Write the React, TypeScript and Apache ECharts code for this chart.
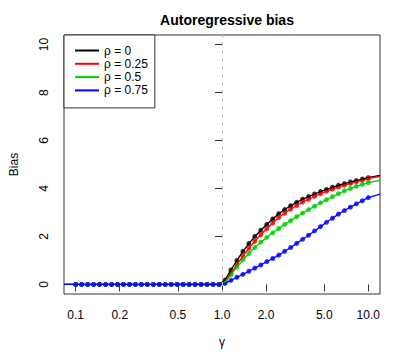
import React, { useEffect, useRef } from "react";
import * as echarts from "echarts";

const gamma = [
  0.1, 0.1099, 0.1207, 0.1326, 0.1456, 0.16, 0.1758, 0.1931, 0.2121, 0.233,
  0.256, 0.2812, 0.3089, 0.3393, 0.3728, 0.4095, 0.4498, 0.4942, 0.5429, 0.5964,
  0.6551, 0.7197, 0.7906, 0.8685, 0.9541, 1.0481, 1.1514, 1.2649, 1.3895, 1.5264,
  1.6768, 1.842, 2.0236, 2.223, 2.4421, 2.6827, 2.9471, 3.2375, 3.5565, 3.907,
  4.2919, 4.7149, 5.1795, 5.6899, 6.2506, 6.8665, 7.5431, 8.2864, 9.103, 10,
];

const rhoLabels = ["ρ = 0", "ρ = 0.25", "ρ = 0.5", "ρ = 0.75"];
const rhoColors = ["#000000", "#FF0000", "#00CD00", "#0000FF"];

const biasRho0 = [
  0, 0, 0, 0, 0, 0, 0, 0, 0, 0, 0, 0, 0, 0, 0, 0, 0, 0, 0, 0, 0, 0, 0, 0, 0,
  0.18, 0.6, 1.0, 1.38, 1.7, 2.0, 2.26, 2.5, 2.73, 2.95, 3.12, 3.28, 3.42, 3.55, 3.66,
  3.77, 3.87, 3.96, 4.05, 4.13, 4.2, 4.27, 4.33, 4.39, 4.45,
];
const biasRho025 = [
  0, 0, 0, 0, 0, 0, 0, 0, 0, 0, 0, 0, 0, 0, 0, 0, 0, 0, 0, 0, 0, 0, 0, 0, 0,
  0.12, 0.46, 0.82, 1.18, 1.5, 1.8, 2.07, 2.32, 2.56, 2.79, 2.97, 3.14, 3.29, 3.43, 3.55,
  3.67, 3.78, 3.88, 3.97, 4.06, 4.14, 4.21, 4.28, 4.34, 4.41,
];
const biasRho05 = [
  0, 0, 0, 0, 0, 0, 0, 0, 0, 0, 0, 0, 0, 0, 0, 0, 0, 0, 0, 0, 0, 0, 0, 0, 0,
  0.07, 0.4, 0.72, 1.02, 1.29, 1.54, 1.76, 1.96, 2.15, 2.33, 2.5, 2.66, 2.82, 2.97, 3.12,
  3.26, 3.4, 3.53, 3.66, 3.78, 3.9, 4.0, 4.09, 4.17, 4.24,
];
const biasRho075 = [
  0, 0, 0, 0, 0, 0, 0, 0, 0, 0, 0, 0, 0, 0, 0, 0, 0, 0, 0, 0, 0, 0, 0, 0, 0,
  0.04, 0.17, 0.3, 0.42, 0.55, 0.68, 0.81, 0.95, 1.08, 1.22, 1.38, 1.54, 1.71, 1.88, 2.05,
  2.23, 2.41, 2.59, 2.76, 2.93, 3.08, 3.22, 3.36, 3.49, 3.62,
];
const biasSeries = [biasRho0, biasRho025, biasRho05, biasRho075];

// the curves continue to the plot edges
const gammaEdgeLeft = 0.0832;
const gammaEdgeRight = 12.02;
const biasEdgeLeft = [0, 0, 0, 0];
const biasEdgeRight = [4.55, 4.51, 4.34, 3.76];

const xTickValues = [0.1, 0.2, 0.5, 1, 2, 5, 10];
const xTickLabels = ["0.1", "0.2", "0.5", "1.0", "2.0", "5.0", "10.0"];
const yTickValues = [0, 2, 4, 6, 8, 10];

const FONT = "Liberation Sans, Arial, Helvetica, sans-serif";

export default function App() {
  const ref = useRef<HTMLDivElement>(null);
  useEffect(() => {
    if (!ref.current) return;
    const chart = echarts.init(ref.current, undefined, { renderer: "svg" });
    const lg = (v: number) => Math.log10(v);
    const xTicksLog = xTickValues.map(lg);

    const series: any[] = [];
    biasSeries.forEach((vals, i) => {
      const lineData = [
        [lg(gammaEdgeLeft), biasEdgeLeft[i]],
        ...gamma.map((g, k) => [lg(g), vals[k]]),
        [lg(gammaEdgeRight), biasEdgeRight[i]],
      ];
      const s: any = {
        name: rhoLabels[i],
        type: "line",
        data: lineData,
        symbol: "none",
        lineStyle: { color: rhoColors[i], width: 1.3 },
        itemStyle: { color: rhoColors[i] },
        clip: true,
      };
      if (i === 0) {
        s.markLine = {
          silent: true,
          symbol: ["none", "none"],
          label: { show: false },
          lineStyle: { color: "#bebebe", type: [4, 4], width: 1 },
          data: [{ xAxis: 0 }],
        };
      }
      series.push(s);
      series.push({
        name: "pts" + i,
        type: "scatter",
        data: gamma.map((g, k) => [lg(g), vals[k]]),
        symbol: "circle",
        symbolSize: 5,
        itemStyle: { color: rhoColors[i] },
      });
    });

    chart.setOption({
      animation: false,
      title: {
        text: "Autoregressive bias",
        left: 222,
        top: 8,
        textAlign: "center",
        textStyle: { fontFamily: FONT, fontSize: 14, fontWeight: "bold", color: "#000" },
      },
      legend: {
        data: rhoLabels.map((n, i) => ({ name: n, icon: "rect", itemStyle: { color: rhoColors[i] } })),
        orient: "vertical",
        left: 64,
        top: 35,
        padding: [9, 7, 11, 11],
        itemWidth: 24,
        itemHeight: 2,
        itemGap: 0.3,
        borderColor: "#333",
        borderWidth: 1,
        backgroundColor: "#fff",
        selectedMode: false,
        textStyle: { fontFamily: FONT, fontSize: 12, color: "#000", lineHeight: 13 },
      },
      grid: {
        left: 64,
        right: 15,
        top: 35,
        bottom: 65,
        show: true,
        borderColor: "#333",
        borderWidth: 1,
        backgroundColor: "transparent",
      },
      xAxis: {
        type: "value",
        min: -1.08,
        max: 1.08,
        name: "γ",
        nameLocation: "middle",
        nameGap: 42,
        nameTextStyle: { fontFamily: FONT, fontSize: 12, color: "#000" },
        axisLine: { show: false },
        splitLine: { show: false },
        axisTick: { show: true, length: 7, customValues: xTicksLog, lineStyle: { color: "#333" } },
        axisLabel: {
          customValues: xTicksLog,
          margin: 15,
          fontFamily: FONT,
          fontSize: 12,
          color: "#000",
          formatter: (v: number) => {
            const idx = xTicksLog.findIndex((t) => Math.abs(t - v) < 1e-6);
            return idx >= 0 ? xTickLabels[idx] : "";
          },
        },
      },
      yAxis: {
        type: "value",
        min: -0.4,
        max: 10.4,
        name: "Bias",
        nameLocation: "middle",
        nameGap: 44,
        nameTextStyle: { fontFamily: FONT, fontSize: 12, color: "#000" },
        axisLine: { show: false },
        splitLine: { show: false },
        axisTick: { show: true, length: 7, customValues: yTickValues, lineStyle: { color: "#333" } },
        axisLabel: {
          customValues: yTickValues,
          rotate: 90,
          margin: 14,
          fontFamily: FONT,
          fontSize: 12,
          color: "#000",
        },
      },
      series,
    });
    return () => chart.dispose();
  }, []);
  return <div ref={ref} style={{ width: 395, height: 359, position: "absolute", left: 0, top: 0 }} />;
}
